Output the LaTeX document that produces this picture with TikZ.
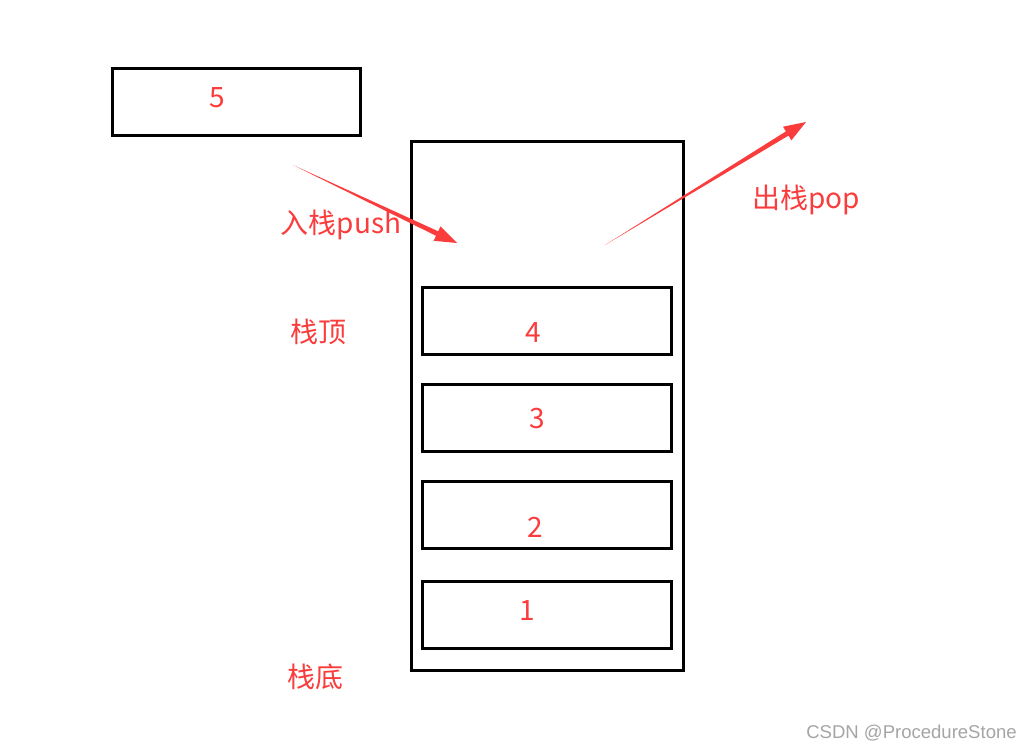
\documentclass[tikz,border=0pt]{standalone}
\usepackage{fontspec}
\newfontfamily\cjk{Noto Sans CJK SC}
\newfontfamily\wm{Liberation Sans}
\definecolor{redtxt}{RGB}{250,60,60}
\definecolor{wmgray}{RGB}{165,165,165}
\begin{document}
\begin{tikzpicture}[x=0.75pt,y=-0.75pt,
  box/.style={draw=black,line width=2.4pt,inner sep=0pt,minimum width=186.75pt,minimum height=50.25pt},
  lbl/.style={text=redtxt,font=\cjk\fontsize{21}{24}\selectfont,inner sep=0pt},
  arr/.style={fill=redtxt,draw=none}]
\useasboundingbox[fill=white] (0,0) rectangle (1031,750);
% boxes
\node[box,minimum width=186pt] (b5) at (236.5,102) {};
\node[box,minimum width=204pt,minimum height=396.75pt] (stack) at (547.5,406) {};
\node[box] (b4) at (547,321) {};
\node[box] (b3) at (547,418) {};
\node[box] (b2) at (547,515) {};
\node[box] (b1) at (547,615) {};
% numbers
\node[lbl] (t5) at (217,98) {5};
\node[lbl] (t4) at (533,333) {4};
\node[lbl] (t3) at (537,419) {3};
\node[lbl] (t2) at (535,527) {2};
\node[lbl] (t1) at (527,611) {1};
% labels
\node[lbl] (top) at (318,332) {栈顶};
\node[lbl] (bottom) at (315,677) {栈底};
\node[lbl] (push) at (341,225) {入栈push};
\node[lbl] (pop) at (806,200) {出栈pop};
% push arrow
\coordinate (ps) at (293,165);
\coordinate (pt) at (457,243);
\fill[arr] (ps) -- (438.2,231.3) -- (440.5,226.3) -- (pt) -- (433.7,240.8) -- (436.0,235.8) -- cycle;
% pop arrow
\coordinate (os) at (605,245);
\coordinate (ot) at (806,122);
\fill[arr] (os) -- (785.9,131.4) -- (783.0,126.7) -- (ot) -- (791.4,140.3) -- (788.5,135.6) -- cycle;
% watermark
\node[text=wmgray,font=\wm\fontsize{13.9}{16}\selectfont,inner sep=0pt] (wmk) at (911.5,733) {CSDN @ProcedureStone};
\end{tikzpicture}
\end{document}
